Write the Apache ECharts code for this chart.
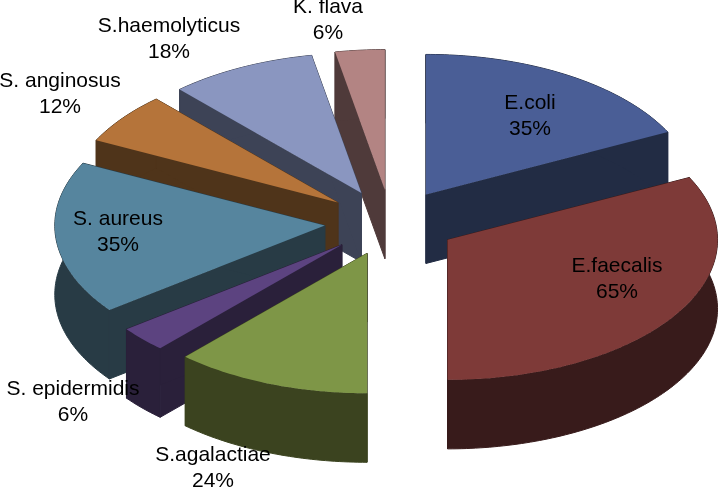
<!DOCTYPE html>
<html>
<head>
<meta charset="utf-8">
<style>html,body{margin:0;padding:0;background:#fff}#c{width:720px;height:488px}</style>
<script src="https://cdn.jsdelivr.net/npm/echarts@6/dist/echarts.min.js"></script>
</head>
<body>
<div id="c"></div>
<script>
// Data (clockwise from 12 o'clock).
// Labels are rounded; slice sweeps show one decimal more (E.coli + E.faecalis fill exactly half the pie).
var categories = ['E.coli', 'E.faecalis', 'S.agalactiae', 'S. epidermidis', 'S. aureus', 'S. anginosus', 'S.haemolyticus', 'K. flava'];
var percents = [35.3, 64.7, 23.5, 5.9, 35.3, 11.8, 17.6, 5.9];

// Styles and layout
var topColors = ['#4a5e96', '#7e3a38', '#7e9647', '#5c4380', '#56859e', '#b5743a', '#8a96c0', '#b38483'];
var wallColors = ['#222c44', '#381b1b', '#3b431f', '#2a203a', '#283b45', '#4f341a', '#3d4356', '#4f3a3a'];
var paintRank = [6, 7, 5, 4, 3, 2, 1, 0];
var labelAnchors = [[530, 116], [617, 279], [213, 468], [73, 402], [118, 232], [60, 94], [169, 39], [328, 20]];
var pie = { cx: 391, cy: 222.5, rx: 270, ry: 140, depth: 69, explodeX: 66.5, explodeY: 33 };

var total = percents.reduce(function (a, b) { return a + b; }, 0);
var startShares = [];
percents.reduce(function (acc, v, i) { startShares[i] = acc; return acc + v; }, 0);

function rim(ax, ay, deg, drop) {
  var t = deg * Math.PI / 180;
  return [ax + pie.rx * Math.sin(t), ay - pie.ry * Math.cos(t) + (drop || 0)];
}

function renderSlice(params, api) {
  var i = api.value(1);
  var a0 = startShares[i] / total * 360;
  var a1 = a0 + api.value(0) / total * 360;
  var mid = (a0 + a1) / 2 * Math.PI / 180;
  var ax = pie.cx + pie.explodeX * Math.sin(mid);
  var ay = pie.cy - pie.explodeY * Math.cos(mid);
  var arcTop = [], arcBottom = [];
  var n = Math.max(2, Math.ceil(a1 - a0));
  for (var k = 0; k <= n; k++) {
    var d = a0 + (a1 - a0) * k / n;
    arcTop.push(rim(ax, ay, d));
    arcBottom.push(rim(ax, ay, d, pie.depth));
  }
  var apex = [ax, ay], apexLow = [ax, ay + pie.depth];
  var wall = { fill: wallColors[i], stroke: wallColors[i], lineWidth: 1, lineJoin: 'round' };
  var z = paintRank[i] * 2;
  function poly(points, style, zz) {
    return { type: 'polygon', shape: { points: points }, style: style, z2: zz, silent: true };
  }
  return {
    type: 'group',
    children: [
      poly([apex, arcTop[0], arcBottom[0], apexLow], wall, z),
      poly([apex, arcTop[n], arcBottom[n], apexLow], wall, z),
      poly(arcTop.concat(arcBottom.slice().reverse()), wall, z),
      poly([apex].concat(arcTop), { fill: topColors[i] }, z + 1)
    ]
  };
}

function renderLabel(params, api) {
  var i = api.value(1);
  return {
    type: 'text',
    x: labelAnchors[i][0],
    y: labelAnchors[i][1],
    silent: true,
    style: {
      text: categories[i] + '\n' + Math.round(api.value(0)) + '%',
      fontFamily: 'Liberation Sans',
      fontSize: 21,
      lineHeight: 26,
      fill: '#000',
      align: 'center',
      verticalAlign: 'middle'
    }
  };
}

var seriesData = percents.map(function (v, i) { return [v, i]; });
var chart = echarts.init(document.getElementById('c'), null, { renderer: 'canvas' });
chart.setOption({
  animation: false,
  backgroundColor: '#fff',
  series: [
    { type: 'custom', coordinateSystem: 'none', renderItem: renderSlice, data: seriesData, z: 1, clip: false },
    { type: 'custom', coordinateSystem: 'none', renderItem: renderLabel, data: seriesData, z: 2, clip: false }
  ]
});
</script>
</body>
</html>
